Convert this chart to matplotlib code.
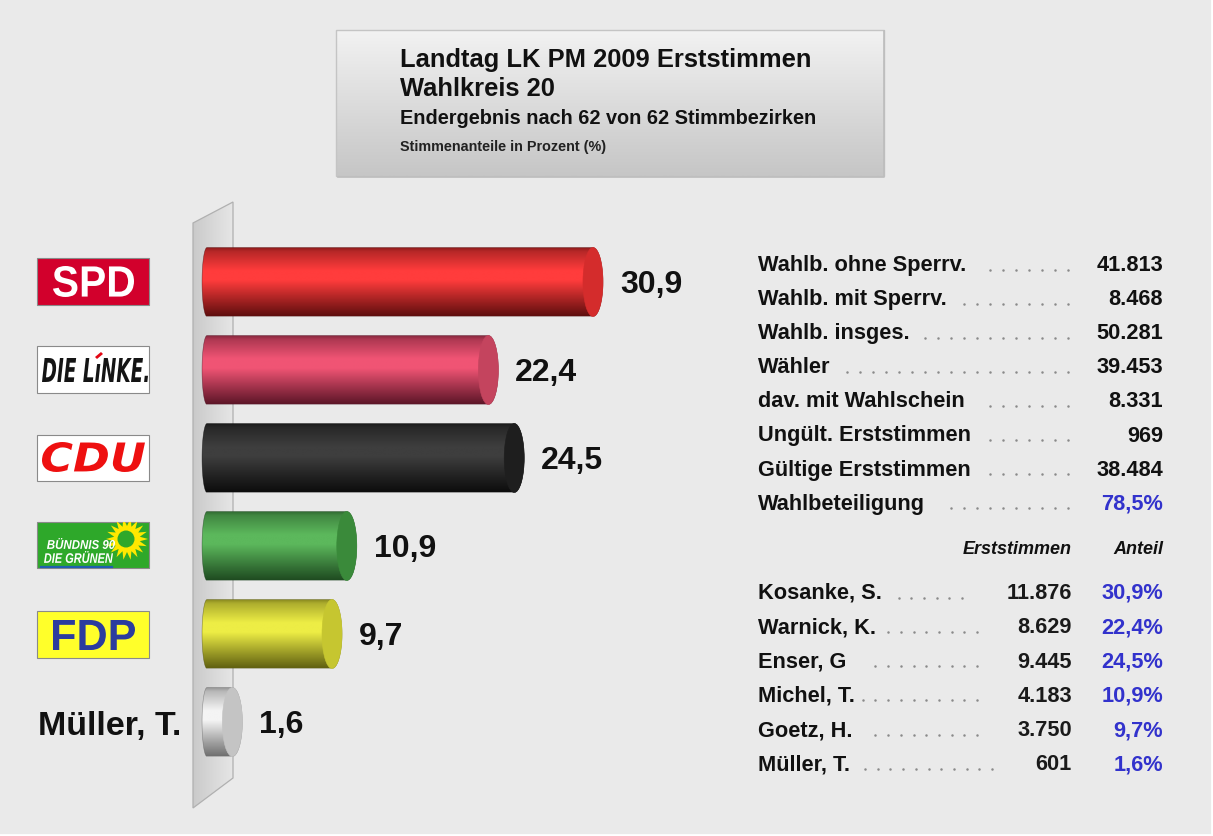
import numpy as np
import matplotlib
matplotlib.use("Agg")
import matplotlib.pyplot as plt
from matplotlib.patches import Rectangle, Polygon, Ellipse, PathPatch, Circle
from matplotlib.textpath import TextPath
from matplotlib.font_manager import FontProperties
from matplotlib.transforms import Affine2D
from matplotlib.colors import to_rgb

# --- data -------------------------------------------------------------
parties = ["SPD", "DIE LINKE", "CDU", "GRÜNE", "FDP", "Müller, T."]
shares = [30.9, 22.4, 24.5, 10.9, 9.7, 1.6]
share_labels = ["30,9", "22,4", "24,5", "10,9", "9,7", "1,6"]
bar_bright = ["#FF3C3C", "#F05474", "#3E3E3E", "#5CB85C", "#EDED45", "#F4F4F4"]
bar_dark = ["#4A0808", "#4A0E1E", "#060606", "#173D19", "#4E4E0A", "#5E5E5E"]
bar_cap = ["#D42C2C", "#C4445E", "#1E1E1E", "#3A8A3A", "#C6C630", "#C4C4C4"]

stat_labels = ["Wahlb. ohne Sperrv.", "Wahlb. mit Sperrv.", "Wahlb. insges.", "Wähler",
               "dav. mit Wahlschein", "Ungült. Erststimmen", "Gültige Erststimmen",
               "Wahlbeteiligung"]
stat_values = ["41.813", "8.468", "50.281", "39.453", "8.331", "969", "38.484", "78,5%"]
stat_dots = [7, 9, 12, 18, 7, 7, 7, 10]

candidates = ["Kosanke, S.", "Warnick, K.", "Enser, G", "Michel, T.", "Goetz, H.", "Müller, T."]
cand_votes = ["11.876", "8.629", "9.445", "4.183", "3.750", "601"]
cand_shares = ["30,9%", "22,4%", "24,5%", "10,9%", "9,7%", "1,6%"]
cand_dots = [6, 8, 9, 10, 9, 11]
cand_dot_end = [962, 977, 977, 977, 977, 992]

title_lines = ["Landtag LK PM 2009 Erststimmen", "Wahlkreis 20",
               "Endergebnis nach 62 von 62 Stimmbezirken", "Stimmenanteile in Prozent (%)"]

# --- style --------------------------------------------------------------
plt.rcParams.update({"font.family": ["Liberation Sans", "DejaVu Sans"]})
W, H = 1213, 836
BG = "#EAEAEA"
BLUE = "#3232CC"
TXT = "#111111"

fig = plt.figure(figsize=(W / 100, H / 100), dpi=100, facecolor=BG)
bg = fig.add_axes([0, 0, 1, 1])
bg.set_xlim(0, W)
bg.set_ylim(H, 0)
bg.axis("off")
bg.set_facecolor(BG)


def vgrad(ax, extent, top, bottom, clip=None, zorder=1, horizontal=False):
    t = np.linspace(0, 1, 64)
    c0, c1 = np.array(to_rgb(top)), np.array(to_rgb(bottom))
    cols = c0 + (c1 - c0) * t[:, None]
    img = cols[None, :, :] if horizontal else cols[:, None, :]
    im = ax.imshow(img, extent=extent, aspect="auto", zorder=zorder, interpolation="bilinear")
    if clip is not None:
        im.set_clip_path(clip)
    return im


def fit_text(ax, s, box, color, weight="bold", style="normal", zorder=6, clip=None,
             family="Liberation Sans"):
    fp = FontProperties(family=family, weight=weight, style=style)
    tp = TextPath((0, 0), s, size=100, prop=fp)
    ext = tp.get_extents()
    x0, y0, x1, y1 = box
    sx = (x1 - x0) / ext.width
    sy = (y1 - y0) / ext.height
    tr = Affine2D().translate(-ext.x0, -ext.y0).scale(sx, -sy).translate(x0, y1)
    p = PathPatch(tr.transform_path(tp), facecolor=color, edgecolor="none", zorder=zorder)
    ax.add_patch(p)
    if clip is not None:
        p.set_clip_path(clip)
    return p


# --- title box ------------------------------------------------------------
box = Rectangle((336, 30), 548, 146, facecolor="none", edgecolor="#C4C4C4", lw=1.0, zorder=2)
bg.add_patch(box)
vgrad(bg, (336, 884, 176, 30), "#F2F2F2", "#C6C6C6", clip=box, zorder=1)
bg.plot([338, 884, 884], [177, 177, 31], color="#BDBDBD", lw=1.2, zorder=2)
title_sizes = [18.4, 18.4, 14.3, 10.4]
title_base = [67, 96, 124, 151]
for s, fs, yb in zip(title_lines, title_sizes, title_base):
    bg.text(400, yb, s, fontsize=fs, fontweight="bold", color=TXT if fs > 11 else "#222222",
            va="baseline", ha="left", zorder=3)

# --- wall behind the bars --------------------------------------------------
wall = Polygon([(193, 223), (233, 202), (233, 778), (193, 808)], closed=True,
               facecolor="none", edgecolor="#B0B0B0", lw=0.9, zorder=2)
bg.add_patch(wall)
vgrad(bg, (193, 233, 808, 202), "#CACACA", "#E6E6E6", clip=wall, zorder=1, horizontal=True)

# --- party logos -------------------------------------------------------------
spd = Rectangle((37, 258), 112, 47, facecolor="#D2002C", edgecolor="#8A8A8A", lw=0.8, zorder=3)
bg.add_patch(spd)
fit_text(bg, "SPD", (53, 266, 134, 297), "white")

linke = Rectangle((37, 346), 112, 47, facecolor="white", edgecolor="#8A8A8A", lw=0.8, zorder=3)
bg.add_patch(linke)
fit_text(bg, "DIE L\u0131NKE.", (42, 358, 148, 382), "#141414", style="italic",
         family="DejaVu Sans")
bg.add_patch(Polygon([(95, 357), (101, 352), (103, 354), (97, 359)], closed=True,
                     facecolor="#E30613", edgecolor="none", zorder=7))

cdu = Rectangle((37, 435), 112, 46, facecolor="white", edgecolor="#8A8A8A", lw=0.8, zorder=3)
bg.add_patch(cdu)
fit_text(bg, "CDU", (42, 442, 145, 472), "#EE1010", style="italic", family="DejaVu Sans")

gr = Rectangle((37, 522), 112, 46, facecolor="#2EA82A", edgecolor="#8A8A8A", lw=0.8, zorder=3)
bg.add_patch(gr)
ang = np.linspace(0, 2 * np.pi, 37)[:-1]
rad = np.where(np.arange(36) % 2 == 0, 21, 13)
petals = Polygon(np.column_stack([127 + rad * np.cos(ang), 539 + rad * np.sin(ang)]),
                 closed=True, facecolor="#FFE800", edgecolor="none", zorder=4)
bg.add_patch(petals)
petals.set_clip_path(gr)
ring = Circle((126, 539), 8.5, facecolor="#2EA82A", edgecolor="none", zorder=5)
bg.add_patch(ring)
fit_text(bg, "BÜNDNIS 90", (47, 538, 115, 549), "white", style="italic", zorder=7)
fit_text(bg, "DIE GRÜNEN", (44, 551, 113, 563), "white", style="italic", zorder=7)
bg.plot([41, 112], [566.5, 566.5], color="#1F5FB0", lw=1.6, zorder=5)

fdp = Rectangle((37, 611), 112, 47, facecolor="#FFFF2A", edgecolor="#8A8A8A", lw=0.8, zorder=3)
bg.add_patch(fdp)
fit_text(bg, "FDP", (53, 620, 135, 650), "#2B3C9E")

bg.text(38, 735, parties[5], fontsize=24.5, fontweight="bold", color=TXT,
        ha="left", va="baseline", zorder=3)

# --- cylinders -------------------------------------------------------------------
PX = 12.31          # pixels per percent point
X0PX = 222.6        # pixel of the zero value
L, R, T, B = 150, 720, 194, 810
ax = fig.add_axes([L / W, 1 - B / H, (R - L) / W, (B - T) / H])
ax.set_xlim((L - X0PX) / PX, (R - X0PX) / PX)
ax.set_ylim(6, -1)
ax.axis("off")
ax.patch.set_visible(False)

h = 69 / 88
x_start = -1.67
rx = 10 / PX
lx = 5 / PX
tt = np.linspace(0, 1, 120)
prof = np.interp(tt, [0, 0.06, 0.34, 0.48, 0.8, 1], [0.35, 0.6, 1, 1, 0.45, 0.12])
for i, (v, lab, cb, cd, cc) in enumerate(zip(shares, share_labels, bar_bright, bar_dark, bar_cap)):
    cb, cd = np.array(to_rgb(cb)), np.array(to_rgb(cd))
    cols = cd + (cb - cd) * prof[:, None]
    th_l = np.linspace(np.pi / 2, 3 * np.pi / 2, 40)
    th_r = np.linspace(-np.pi / 2, np.pi / 2, 40)
    pts = np.vstack([
        np.column_stack([x_start + lx + lx * np.cos(th_l), i + h / 2 * np.sin(th_l)]),
        np.column_stack([v - rx + rx * np.cos(th_r), i + h / 2 * np.sin(th_r)]),
    ])
    outline = Polygon(pts, closed=True, facecolor="none", edgecolor=cd, lw=0.4,
                      alpha=0.6, zorder=4)
    ax.add_patch(outline)
    im = ax.imshow(cols[:, None, :], extent=(x_start, v, i + h / 2, i - h / 2),
                   aspect="auto", zorder=3, interpolation="bilinear")
    im.set_clip_path(outline)
    ax.add_patch(Ellipse((v - rx, i), 2 * rx, h, facecolor=cc, edgecolor=cc,
                         lw=0.4, zorder=5))
    ax.text(v + 17 / PX, i + 11.5 / 88, lab, fontsize=23, fontweight="bold", color=TXT,
            ha="left", va="baseline")
ax.set_xlim((L - X0PX) / PX, (R - X0PX) / PX)
ax.set_ylim(6, -1)

# --- statistics table -------------------------------------------------------------
FS = 15.7
DOT = "#8A8A8A"
for k, (lab, val, nd) in enumerate(zip(stat_labels, stat_values, stat_dots)):
    yb = 271 + 34.1 * k
    bg.text(758, yb, lab, fontsize=FS, fontweight="bold", color=TXT, ha="left", va="baseline")
    last = k == len(stat_labels) - 1
    bg.text(1163, yb, val, fontsize=FS, fontweight="bold",
            color=BLUE if last else TXT, ha="right", va="baseline")
    xs = 1068 - 13 * np.arange(nd)
    bg.scatter(xs, np.full(nd, yb - 1.5), s=3.2, color=DOT, linewidths=0, zorder=3)

bg.text(1072, 554, "Erststimmen", fontsize=13, fontweight="bold", style="italic",
        color=TXT, ha="right", va="baseline")
bg.text(1163, 554, "Anteil", fontsize=13, fontweight="bold", style="italic",
        color=TXT, ha="right", va="baseline")
for k, (name, vv, sh, nd, xe) in enumerate(zip(candidates, cand_votes, cand_shares,
                                               cand_dots, cand_dot_end)):
    yb = 599 + 34.3 * k
    bg.text(758, yb, name, fontsize=FS, fontweight="bold", color=TXT, ha="left", va="baseline")
    bg.text(1072, yb, vv, fontsize=FS, fontweight="bold", color="#1A1A1A",
            ha="right", va="baseline")
    bg.text(1163, yb, sh, fontsize=FS, fontweight="bold", color=BLUE, ha="right",
            va="baseline")
    xs = xe - 12.7 * np.arange(nd)
    bg.scatter(xs, np.full(nd, yb - 1.5), s=3.2, color=DOT, linewidths=0, zorder=3)

# thin white frame at the lower and right edge
bg.plot([0, W], [835, 835], color="white", lw=2, zorder=10)
bg.plot([1211.5, 1211.5], [0, H], color="white", lw=2, zorder=10)
bg.set_xlim(0, W)
bg.set_ylim(H, 0)

fig.savefig("out.png", dpi=100, facecolor=BG)
